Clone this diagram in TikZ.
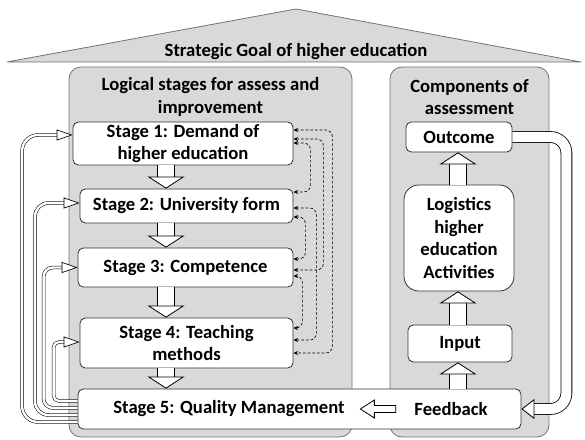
\documentclass[tikz,border=0pt]{standalone}
\usepackage{fontspec}
\setmainfont{Carlito}
\usetikzlibrary{arrows.meta,calc}

\tikzset{
  panel/.style={draw=black!55, fill=black!15, rounded corners=9pt, line width=0.6pt, inner sep=0pt},
  roof/.style={draw=black!55, fill=black!15, line width=0.6pt},
  stagebox/.style={draw=black!80, fill=white, rounded corners=4pt, line width=0.6pt, align=center, inner sep=0pt},
  blockarrow/.style={line width=0.6pt, double=white, double distance=12.3pt,
    -{Triangle[length=9pt, width=27.75pt, fill=white, line width=0.6pt]}},
  fatleft/.style={line width=0.6pt, fill=white, line join=miter},
  backloop/.style={line width=0.6pt, double=white, double distance=7.6pt, rounded corners=12pt,
    -{Triangle[length=9.75pt, width=15pt, fill=white, line width=0.6pt]}},
  stageloop/.style={line width=0.4pt, double=white, double distance=1.8pt, rounded corners=8pt,
    -{Triangle[length=12pt, width=8.25pt, fill=white, line width=0.5pt]}},
  dashlink/.style={dash pattern=on 2pt off 1.5pt, line width=0.5pt, rounded corners=5pt,
    {Stealth[length=3.5pt, width=3pt]}-{Stealth[length=3.5pt, width=3pt]}}
}

\begin{document}
\begin{tikzpicture}[x=0.75pt, y=-0.75pt, font=\fontsize{14}{17}\selectfont\bfseries]

  \useasboundingbox (0,0) rectangle (585,439);

  % roof and the two panels
  \draw[roof] (7,62) -- (296,9) -- (581,62) -- cycle;
  \node (goal) at (296,52) {Strategic Goal of higher education};

  \node[panel, minimum width=212.25pt, minimum height=277.5pt] (logic) at (210.5,252) {};
  \node[panel, minimum width=119.25pt, minimum height=277.5pt] (comp) at (469.5,252) {};
  \node[align=center] (logtitle) at (210.5,97) {Logical stages for assess and\\improvement};
  \node[align=center] (comptitle) at (469.5,97) {Components of\\assessment};

  % stages
  \node[stagebox, minimum width=165pt, minimum height=32.25pt] (s1) at (183,143.5) {Stage 1: Demand of\\higher education};
  \node[stagebox, minimum width=159.75pt, minimum height=25.5pt] (s2) at (186.5,206) {Stage 2: University form};
  \node[stagebox, minimum width=161.25pt, minimum height=29.25pt] (s3) at (185.5,267.5) {Stage 3: Competence};
  \node[stagebox, minimum width=159.75pt, minimum height=37.5pt] (s4) at (186.5,343) {Stage 4: Teaching\\methods};
  \node[stagebox, minimum width=332.25pt, minimum height=30pt] (s5) at (299.5,409) {};
  \node (q5) at (229,409) {Stage 5: Quality Management};
  \node (fb) at (451,409) {Feedback};

  % components
  \node[stagebox, minimum width=79.5pt, minimum height=22.5pt] (outcome) at (459,137) {Outcome};
  \node[stagebox, rounded corners=11pt, minimum width=82.5pt, minimum height=79.5pt] (logist) at (459,238) {Logistics\\higher\\education\\Activities};
  \node[stagebox, minimum width=78pt, minimum height=27.75pt] (input) at (460,343.5) {Input};

  \coordinate (ax) at (166,0);
  \coordinate (bx) at (458,0);

  % block arrows
  \draw[blockarrow] (s1.south -| ax) -- (s2.north -| ax);
  \draw[blockarrow] (s2.south -| ax) -- (s3.north -| ax);
  \draw[blockarrow] (s3.south -| ax) -- (s4.north -| ax);
  \draw[blockarrow] (s4.south -| ax) -- (s5.north -| ax);
  \draw[blockarrow] (s5.north -| bx) -- (input.south -| bx);
  \draw[blockarrow] (input.north -| bx) -- (logist.south -| bx);
  \draw[blockarrow] (logist.north -| bx) -- (outcome.south -| bx);

  % feedback into stage 5
  \draw[fatleft] ($(fb.west)+(-14,-3.5)$) -- ($(q5.east)+(25,-3.5)$) -- ($(q5.east)+(25,-9)$)
    -- ($(q5.east)+(11,0)$) -- ($(q5.east)+(25,9)$) -- ($(q5.east)+(25,3.5)$)
    -- ($(fb.west)+(-14,3.5)$) -- cycle;
  \draw[backloop] (outcome.east) -| ($(s5.east)+(45,0)$) -- (s5.east);

  % loops back from stage 5
  \draw[stageloop, rounded corners=4pt] ($(s5.west)+(0,-8)$) -| ($(s4.west)+(-26,-1)$) -- ($(s4.west)+(0,-1)$);
  \draw[stageloop, rounded corners=7pt] ($(s5.west)+(0,-1)$) -| ($(s3.west)+(-34,0)$) -- (s3.west);
  \draw[stageloop, rounded corners=10pt] ($(s5.west)+(0,6)$) -| ($(s2.west)+(-44.5,-3)$) -- ($(s2.west)+(0,-3)$);
  \draw[stageloop, rounded corners=12pt] ($(s5.west)+(0,13)$) -| ($(s1.west)+(-50.5,-8.5)$) -- ($(s1.west)+(0,-8.5)$);

  % dashed links between stages
  \draw[dashlink] ($(s1.east)+(0,-13.5)$) -| ($(s4.east)+(39,10)$) -- ($(s4.east)+(0,10)$);
  \draw[dashlink] ($(s1.east)+(0,-4.5)$) -| ($(s3.east)+(30,2.5)$) -- ($(s3.east)+(0,2.5)$);
  \draw[dashlink] ($(s1.east)+(0,-0.5)$) -| ($(s2.east)+(17,-14)$) -- ($(s2.east)+(0,-14)$);
  \draw[dashlink] ($(s2.east)+(0,2)$) -| ($(s4.east)+(23,-3)$) -- ($(s4.east)+(0,-3)$);
  \draw[dashlink] ($(s2.east)+(0,11)$) -| ($(s3.east)+(12,-8.5)$) -- ($(s3.east)+(0,-8.5)$);
  \draw[dashlink] ($(s3.east)+(0,8.5)$) -| ($(s4.east)+(9,-15)$) -- ($(s4.east)+(0,-15)$);

\end{tikzpicture}
\end{document}
